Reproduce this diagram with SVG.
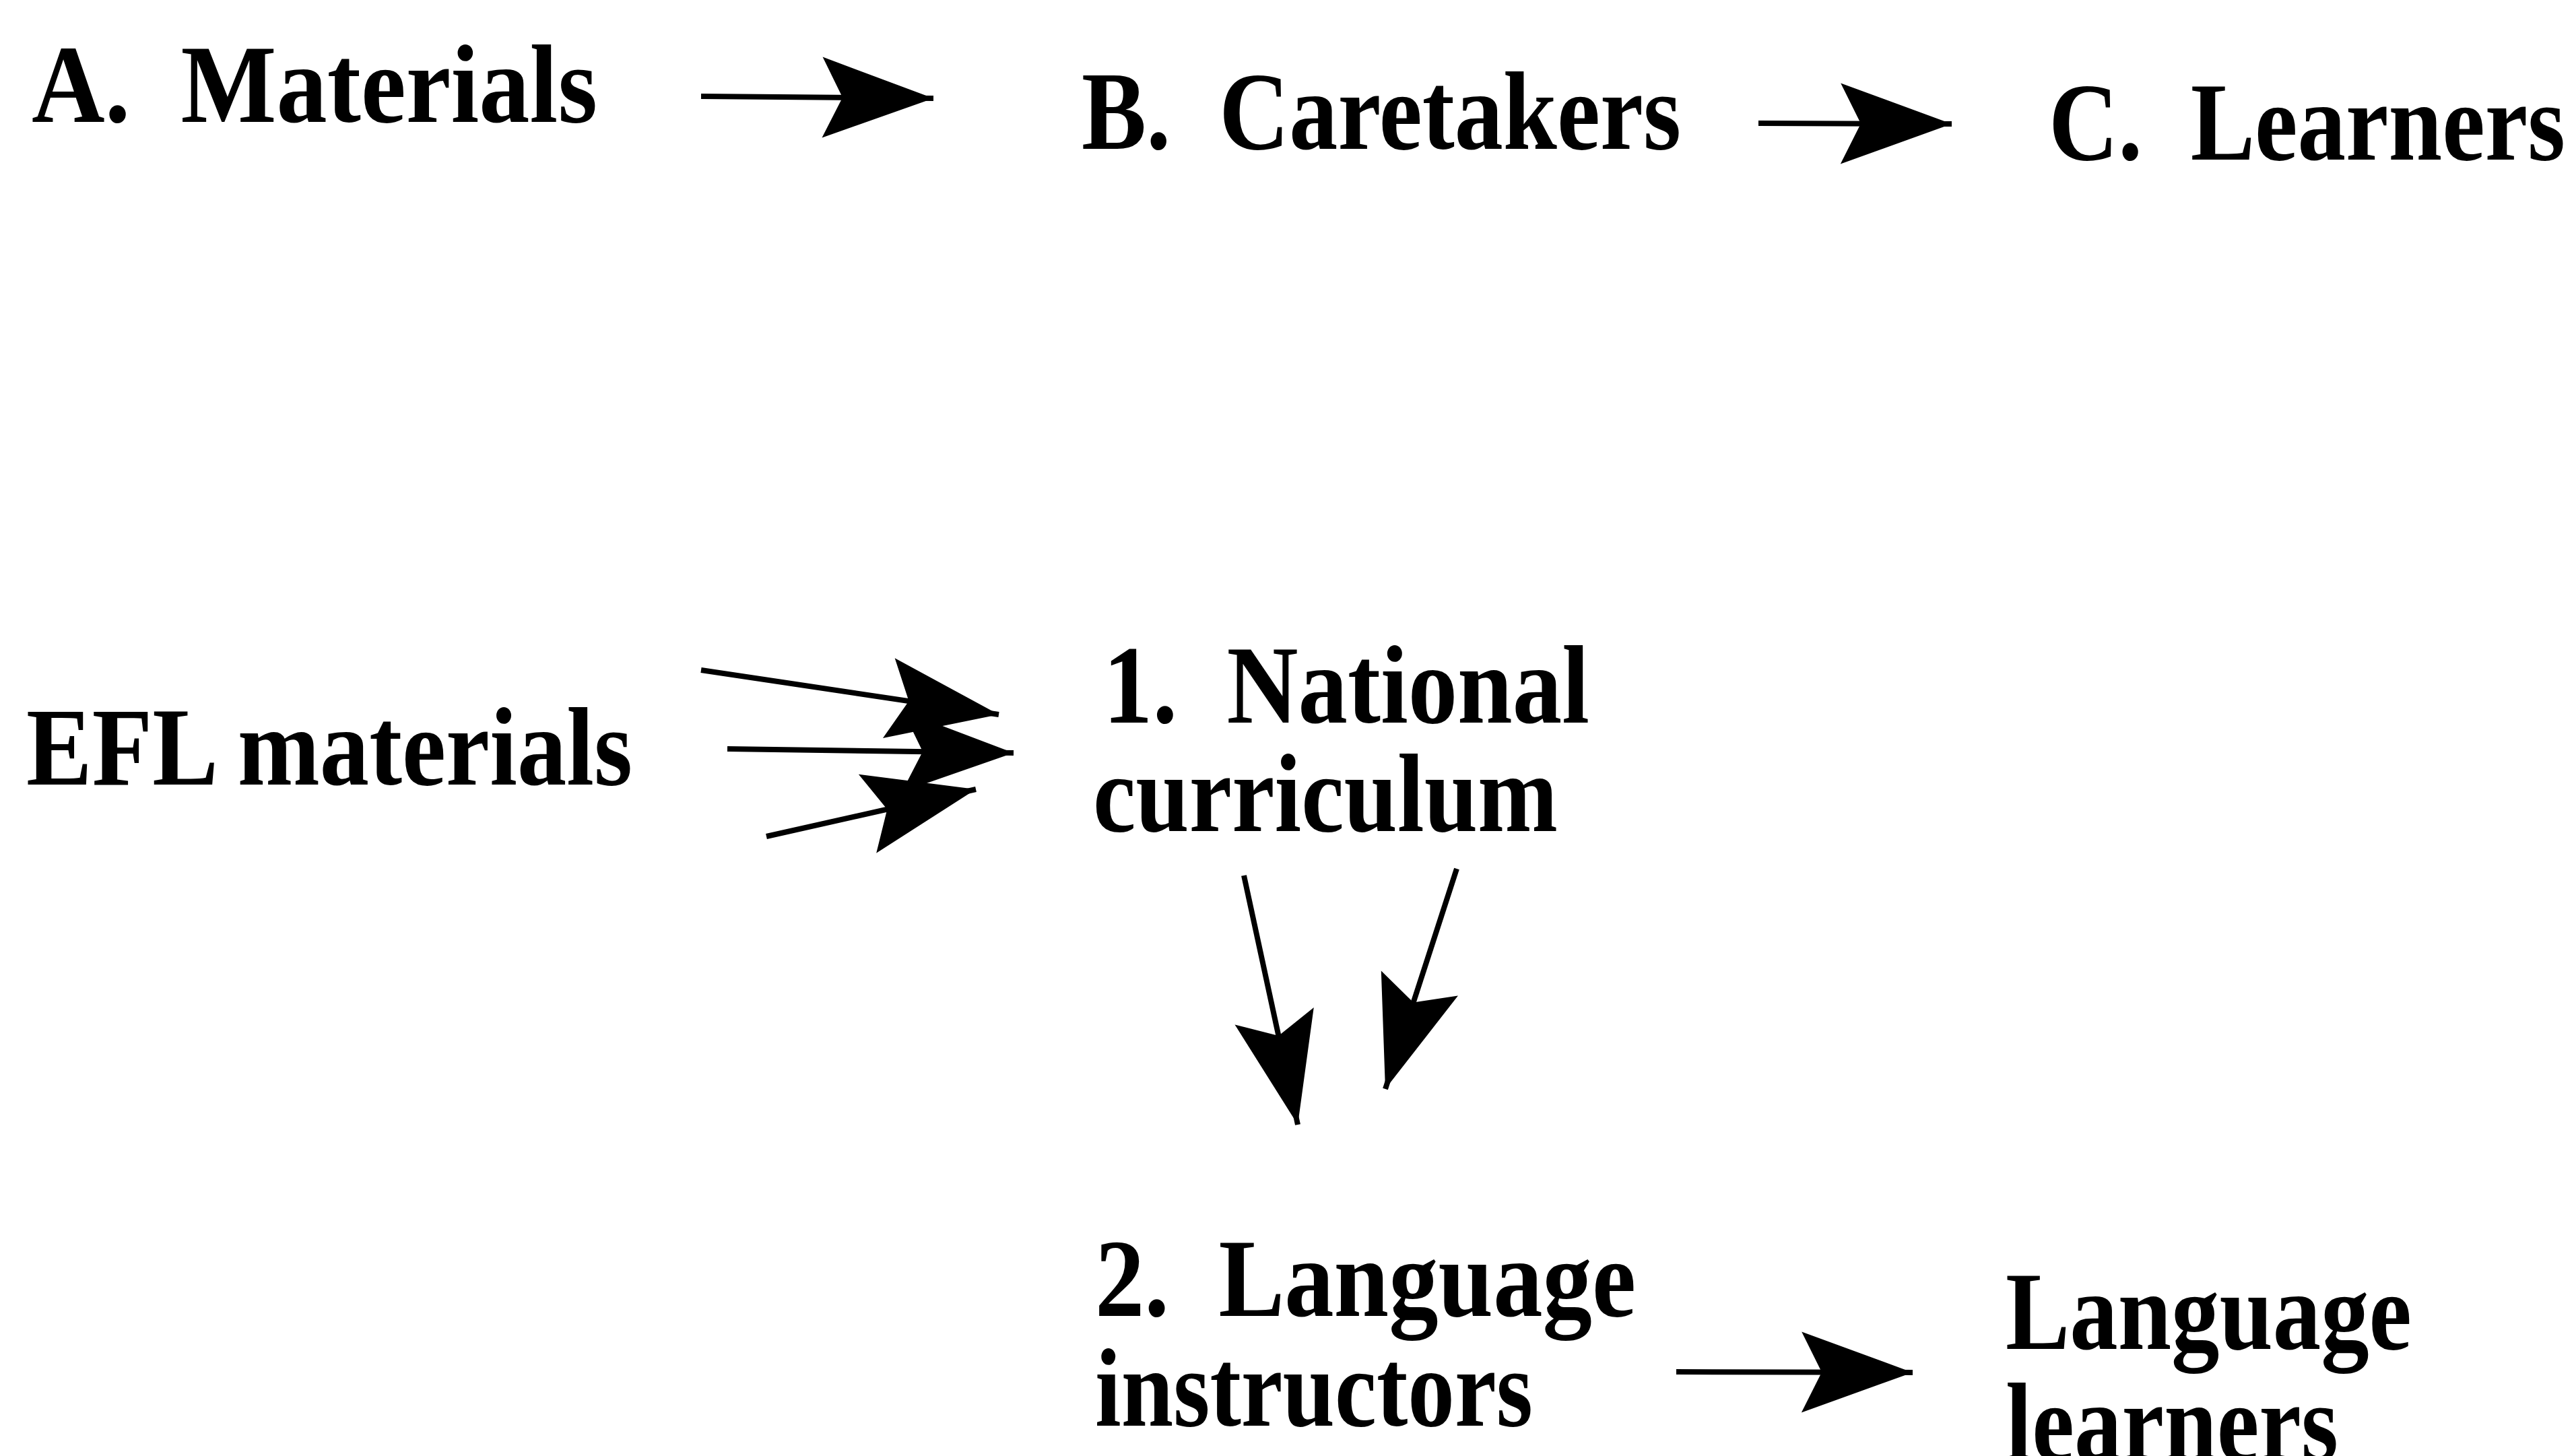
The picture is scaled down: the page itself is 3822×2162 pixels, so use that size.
<svg xmlns="http://www.w3.org/2000/svg" width="3822" height="2162" viewBox="0 0 3822 2162">
<style>
.t{font-family:"Liberation Serif","Times New Roman",serif;font-weight:bold;font-size:166px;fill:#000}
.c{stroke:#000;stroke-width:8;fill:none;marker-end:url(#ah)}
</style>
<defs>
<marker id="ah" markerUnits="userSpaceOnUse" refX="0" refY="0" markerWidth="10" markerHeight="10" orient="auto" overflow="visible">
<path d="M0,0 L-165,-60 L-135,0 L-165,60 Z" fill="#000"/>
</marker>
</defs>
<rect width="3822" height="2162" fill="#fff"/>
<g id="nodeA"><text class="t" x="47" y="181" textLength="840" lengthAdjust="spacingAndGlyphs" xml:space="preserve">A.  Materials</text></g>
<g id="nodeB"><text class="t" x="1606" y="221" textLength="890" lengthAdjust="spacingAndGlyphs" xml:space="preserve">B.  Caretakers</text></g>
<g id="nodeC"><text class="t" transform="translate(3042,237) scale(0.862,1)" x="0" y="0" xml:space="preserve">C.  Learners</text></g>
<g id="nodeEFL"><text class="t" x="39" y="1165" textLength="900" lengthAdjust="spacingAndGlyphs">EFL materials</text></g>
<g id="node1">
<text class="t" x="1638" y="1073" textLength="722" lengthAdjust="spacingAndGlyphs" xml:space="preserve">1.  National</text>
<text class="t" x="1623" y="1234" textLength="690" lengthAdjust="spacingAndGlyphs">curriculum</text>
</g>
<g id="node2">
<text class="t" x="1626" y="1954" textLength="803" lengthAdjust="spacingAndGlyphs" xml:space="preserve">2.  Language</text>
<text class="t" x="1626" y="2117" textLength="650" lengthAdjust="spacingAndGlyphs">instructors</text>
</g>
<g id="nodeLL">
<text class="t" x="2978" y="2003" textLength="603" lengthAdjust="spacingAndGlyphs">Language</text>
<text class="t" x="2978" y="2168" textLength="494" lengthAdjust="spacingAndGlyphs">learners</text>
</g>
<g id="connectors">
<line class="c" x1="1041" y1="143" x2="1386" y2="146"/>
<line class="c" x1="2611" y1="183" x2="2898" y2="184"/>
<line class="c" x1="1041" y1="995" x2="1483" y2="1061"/>
<line class="c" x1="1080" y1="1112" x2="1505" y2="1118"/>
<line class="c" x1="1138" y1="1242" x2="1449" y2="1172"/>
<line class="c" x1="1847" y1="1300" x2="1927" y2="1670"/>
<line class="c" x1="2163" y1="1290" x2="2057" y2="1617"/>
<line class="c" x1="2489" y1="2037" x2="2840" y2="2038"/>
</g>
</svg>
